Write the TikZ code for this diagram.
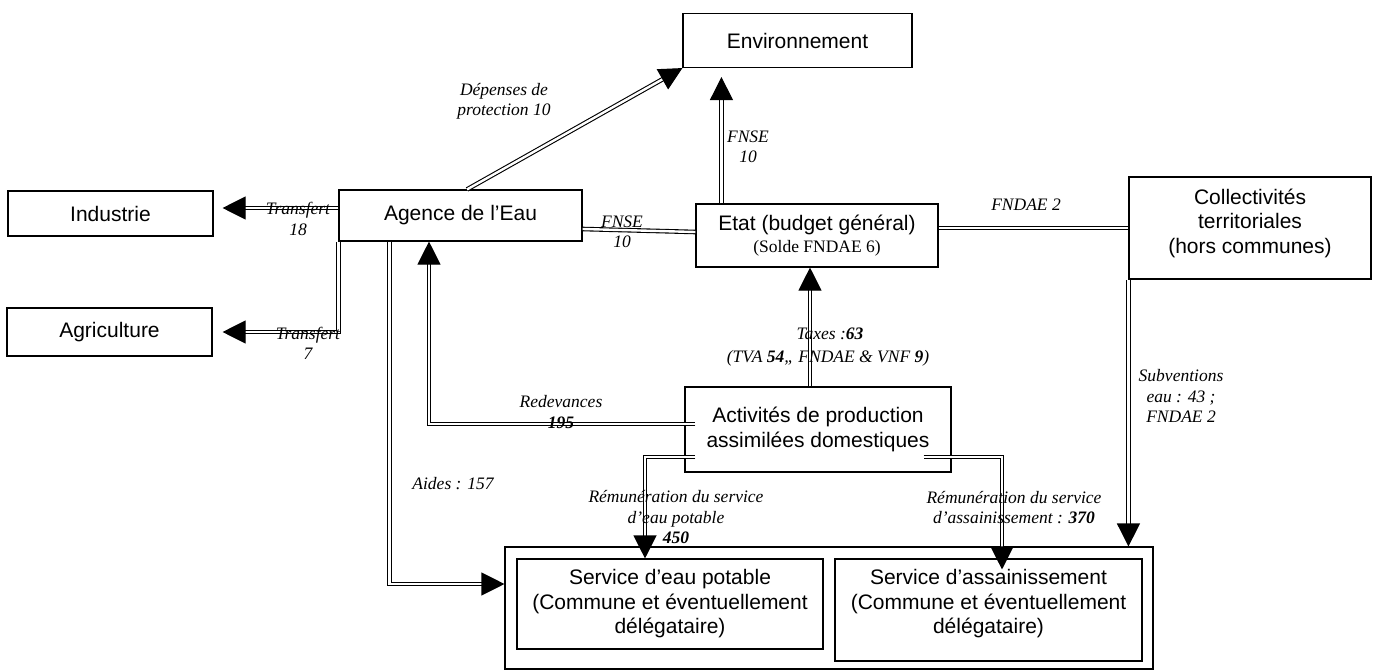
\documentclass[tikz,border=0pt]{standalone}
\usepackage{fontspec}
\setmainfont{Liberation Serif}
\newfontfamily\boxfont{Liberation Sans}
\usetikzlibrary{arrows.meta,calc}
\begin{document}
\begin{tikzpicture}[x=1pt,y=-1pt,
  box/.style={draw, line width=1.1pt, inner sep=0pt, align=center,
    font=\boxfont\fontsize{21}{24.5}\selectfont},
  boxtxt/.style={inner sep=0pt, align=center, font=\boxfont\fontsize{21}{24.5}\selectfont},
  lbl/.style={inner sep=0pt, align=center, font=\itshape\fontsize{17.5}{20.5}\selectfont},
  flow/.style={draw, line width=1.1pt, double=white, double distance=2.4pt},
  arr/.style={flow, -{Triangle[length=23pt,width=23pt]}}]
\useasboundingbox (0,0) rectangle (1380,669);

% boxes
\node[box, minimum width=229pt, minimum height=54pt] (env) at (797.5,40.5) {Environnement};
\node[box, minimum width=205pt, minimum height=45pt] (ind) at (110.5,213.5) {Industrie};
\node[box, minimum width=205pt, minimum height=48pt] (agr) at (109.5,332) {Agriculture};
\node[box, minimum width=243pt, minimum height=51pt] (age) at (460.5,215.5) {Agence de l’Eau};
\node[box, minimum width=242pt, minimum height=63pt] (eta) at (817,235.5)
  {Etat (budget général)\\[-3pt]{\rmfamily\fontsize{17.5}{20}\selectfont (Solde FNDAE 6)}};
\node[box, minimum width=242pt, minimum height=102pt] (col) at (1250,228) {};
\node[boxtxt] at ($(col)+(0,-5)$) {Collectivités\\territoriales\\(hors communes)};
\node[box, minimum width=266pt, minimum height=85pt] (act) at (818,429.5)
  {Activités de production\\assimilées domestiques};
\node[box, minimum width=648pt, minimum height=122pt] (svc) at (829,608) {};
\node[box, minimum width=306pt, minimum height=90pt] (sep) at (670,604)
  {Service d’eau potable\\(Commune et éventuellement\\délégataire)};
\node[box, minimum width=307pt, minimum height=102pt] (ssa) at (988.5,610) {};
\node[boxtxt] at ($(ssa)+(0,-6)$) {Service d’assainissement\\(Commune et éventuellement\\délégataire)};

% flows
\draw[arr, shorten >=9pt] ($(age.west)+(0,-7.5)$) -- ($(ind.east)+(0,-5.5)$);
\draw[arr, shorten >=10pt] (age.south west) |- (agr.east);
\draw[arr] ($(age.north)+(6.5,0)$) -- (env.south west);
\draw[arr, shorten >=9pt] ($(eta.north west)+(26,0)$) -- ($(env.south west)+(39,0)$);
\draw[flow] ($(age.east)+(0,13.5)$) -- ($(eta.west)+(0,-3.5)$);
\draw[flow] (eta.east |- col.west) -- (col.west);
\draw[arr] ($(act.north)+(-8,0)$) -- ($(eta.south)+(-7,0)$);
\draw[arr] ($(act.west)+(11,-5.5)$) -| ($(age.south)+(-31.5,0)$);
\draw[arr] ($(age.south west)+(51,0)$) |- ($(svc.west)+(0,-24)$);
\draw[arr] ($(act.west)+(11,27.5)$) -| ($(sep.north)+(-25,0)$);
\draw[arr] ($(act.east)+(-28,27.5)$) -| ($(ssa.north)+(13.5,11)$);
\draw[arr] (col.south west) -- (col.south west |- svc.north);

% labels
\node[lbl] at (298,219) {Transfert\\18};
\node[lbl] at (308,343.5) {Transfert\\7};
\node[lbl] at (504,101.5) {Dépenses de\\protection 10};
\node[lbl] at (748,147) {FNSE\\10};
\node[lbl] at (622,232) {FNSE\\10};
\node[lbl] at (1026,205) {FNDAE 2};
\node[lbl] at (830,334) {Taxes :\textbf{63}};
\node[lbl] at (828,358) {(TVA \textbf{54},, FNDAE \& VNF \textbf{9})};
\node[lbl] at (561,412) {Redevances\\\textbf{195}};
\node[lbl] at (453,484) {Aides : 157};
\node[lbl] at (676,517) {Rémunération du service\\d’eau potable\\\textbf{450}};
\node[lbl] at (1014,507.5) {Rémunération du service\\d’assainissement : \textbf{370}};
\node[lbl] at (1181,396) {Subventions\\eau : 43 ;\\FNDAE 2};
\end{tikzpicture}
\end{document}
